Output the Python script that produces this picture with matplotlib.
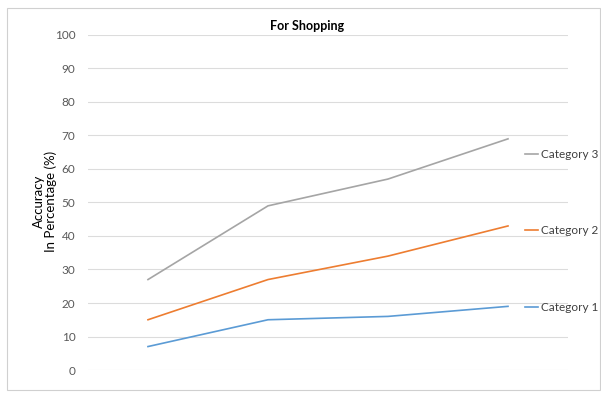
import numpy as np
import matplotlib.pyplot as plt
from matplotlib.patches import Rectangle

plt.rcParams['font.family'] = ['Lato', 'DejaVu Sans']

# accuracy per step, one list per category
steps = ['1', '2', '3', '4']
cat1 = [7, 15, 16, 19]
cat2 = [15, 27, 34, 43]
cat3 = [27, 49, 57, 69]
yticks = [0, 10, 20, 30, 40, 50, 60, 70, 80, 90, 100]

fig = plt.figure(figsize=(6.01, 3.94), dpi=100)
ax = fig.add_axes([0.1464, 0.0609, 0.7987, 0.8503])

# outer chart frame
fig.patches.append(Rectangle((0.012, 0.01), 0.986, 0.97, transform=fig.transFigure,
                             fill=False, edgecolor='#d0d0d0', linewidth=0.8))

x = np.arange(len(steps))
l1, = ax.plot(x, cat1, color='#5B9BD5', lw=1.2, label='Category 1')
l2, = ax.plot(x, cat2, color='#ED7D31', lw=1.2, label='Category 2')
l3, = ax.plot(x, cat3, color='#A5A5A5', lw=1.2, label='Category 3')

ax.set_xlim(-0.5, len(steps) - 0.5)
ax.set_ylim(0, 100)
ax.set_yticks(yticks)
ax.set_xticks([])
ax.grid(axis='y', color='#dcdcdc', lw=0.8)
ax.set_axisbelow(True)
for s in ax.spines.values():
    s.set_visible(False)
ax.tick_params(axis='y', length=0, pad=9, labelsize=8.5, labelcolor='#595959')

# title sits over the whole chart frame, not the plot area
fig.text(0.511, 0.934, 'For Shopping', ha='center', va='center',
         fontsize=9, fontweight='bold', color='#000000')
fig.text(0.075, 0.49, 'Accuracy\nIn Percentage (%)', rotation=90, ha='center', va='center',
         fontsize=9.5, color='#000000', linespacing=1.0)

leg = ax.legend(handles=[l3, l2, l1], loc='upper left', bbox_to_anchor=(0.91, 0.66),
                frameon=False, fontsize=8.5, handlelength=1.1, handletextpad=0.3,
                labelspacing=5.55, borderpad=0, borderaxespad=0)
for t in leg.get_texts():
    t.set_color('#404040')
leg.set_clip_on(False)

fig.savefig('out.png', dpi=100)
